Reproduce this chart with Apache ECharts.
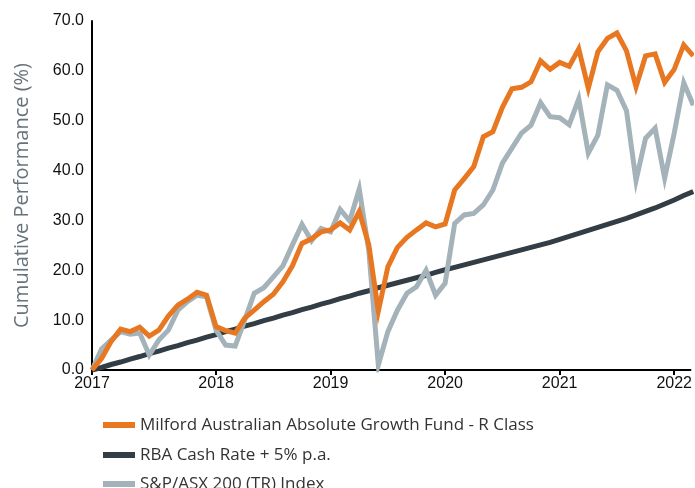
<!DOCTYPE html>
<html>
<head>
<meta charset="utf-8">
<title>Cumulative Performance</title>
<script src="https://cdn.jsdelivr.net/npm/echarts@6/dist/echarts.min.js"></script>
<style>
  html, body { margin: 0; padding: 0; background: #fff; }
  #perf_line { width: 695px; height: 488px; }
</style>
</head>
<body>
<div id="perf_line"></div>
<script>
// month index 0 = start of the series (0%), one point per month
var tickMonths = [0, 13, 25, 37, 49, 61];
var yearLabels = ['2017', '2018', '2019', '2020', '2021', '2022'];

var fundName = 'Milford Australian Absolute Growth Fund - R Class';
var cashName = 'RBA Cash Rate + 5% p.a.';
var asxName = 'S&P/ASX 200 (TR) Index';

// Milford fund, cumulative %
var fundVals = [0, 2.3, 5.7, 8.2, 7.7, 8.6, 6.8, 8.0, 10.8, 13.0, 14.2, 15.6, 15.0,
  8.7, 7.9, 7.4, 10.4, 12.0, 13.7, 15.2, 17.7, 20.9, 25.4, 26.3, 27.7,
  28.1, 29.5, 28.1, 31.8, 25.1, 11.8, 20.7, 24.6, 26.6, 28.1, 29.5, 28.7,
  29.3, 36.1, 38.4, 40.8, 46.8, 47.8, 52.7, 56.4, 56.7, 57.8, 62.0, 60.3,
  61.7, 60.9, 64.4, 56.5, 63.8, 66.5, 67.6, 64.0, 56.8, 63.0, 63.4, 57.7,
  60.3, 65.2, 63.0];
// RBA cash rate + 5%
var cashVals = [0, 0.5, 1.1, 1.6, 2.2, 2.7, 3.3, 3.8, 4.4, 4.9, 5.5, 6.0, 6.6,
  7.1, 7.7, 8.2, 8.8, 9.3, 9.9, 10.4, 11.0, 11.5, 12.1, 12.6, 13.2,
  13.7, 14.3, 14.8, 15.4, 15.9, 16.5, 17.0, 17.5, 18.0, 18.5, 19.0, 19.6,
  20.1, 20.6, 21.1, 21.6, 22.1, 22.6, 23.1, 23.6, 24.1, 24.6, 25.1, 25.6,
  26.2, 26.8, 27.4, 28.0, 28.6, 29.2, 29.8, 30.4, 31.1, 31.8, 32.5, 33.3,
  34.1, 35.0, 35.8];
// S&P/ASX 200 TR
var asxVals = [0, 4.2, 6.0, 7.7, 7.2, 7.4, 3.0, 6.0, 8.0, 12.0, 13.7, 15.0, 14.7,
  8.0, 5.0, 4.8, 10.0, 15.4, 16.5, 18.7, 20.9, 25.1, 29.2, 25.9, 28.4,
  27.7, 32.2, 29.9, 36.3, 24.0, 1.0, 7.7, 12.0, 15.4, 16.7, 20.0, 15.0,
  17.4, 29.4, 31.1, 31.4, 33.1, 36.1, 41.5, 44.5, 47.5, 49.1, 53.6, 50.8,
  50.6, 49.2, 54.4, 43.5, 47.1, 57.2, 56.1, 52.0, 38.0, 46.5, 48.5, 38.5,
  47.5, 57.6, 53.1];

var colors = { fund: '#e87722', cash: '#333d45', asx: '#a4b2ba' };

var toPoints = function (arr) {
  var res = [];
  for (var i = 0; i < arr.length; i++) {
    res.push([i, arr[i]]);
  }
  return res;
};

var lineSeries = function (name, arr, color, z) {
  return {
    name: name,
    type: 'line',
    data: toPoints(arr),
    showSymbol: false,
    symbol: 'none',
    z: z,
    color: color,
    lineStyle: { color: color, width: 5, join: 'miter', cap: 'butt' },
    animation: false
  };
};

// one legend per row, so the last row can run off the bottom like the original
var legendRow = function (name, top) {
  return {
    orient: 'vertical',
    left: 98,
    top: top,
    icon: 'rect',
    itemWidth: 32,
    itemHeight: 6,
    data: [name],
    selectedMode: false,
    textStyle: { fontFamily: 'Open Sans', fontSize: 17, color: '#333', lineHeight: 20 }
  };
};

var perf_line = echarts.init(document.getElementById('perf_line'));
var option = {
  backgroundColor: '#fff',
  grid: { left: 92, right: 0, top: 21, bottom: 118, containLabel: false },
  legend: [
    legendRow(fundName, 410),
    legendRow(cashName, 440),
    legendRow(asxName, 469)
  ],
  xAxis: {
    type: 'value',
    min: 0,
    max: 62.7,
    splitLine: { show: false },
    axisLine: { lineStyle: { color: '#000', width: 2 } },
    axisTick: { show: true, length: 5, lineStyle: { color: '#000', width: 2 }, customValues: tickMonths },
    axisLabel: {
      customValues: tickMonths,
      fontFamily: 'Liberation Sans',
      fontSize: 16,
      color: '#111',
      margin: 6,
      formatter: function (v) {
        var k = tickMonths.indexOf(v);
        return k >= 0 ? yearLabels[k] : '';
      }
    }
  },
  yAxis: {
    type: 'value',
    min: 0,
    max: 70,
    interval: 10,
    name: 'Cumulative Performance (%)',
    nameLocation: 'middle',
    nameGap: 60,
    nameTextStyle: { fontFamily: 'Open Sans', fontSize: 20, color: '#66737b' },
    splitLine: { show: false },
    axisLine: { show: true, lineStyle: { color: '#000', width: 2 } },
    axisTick: { show: false },
    axisLabel: {
      fontFamily: 'Liberation Sans',
      fontSize: 16,
      color: '#111',
      margin: 8,
      formatter: function (v) { return v.toFixed(1); }
    }
  },
  series: [
    lineSeries(cashName, cashVals, colors.cash, 1),
    lineSeries(asxName, asxVals, colors.asx, 2),
    lineSeries(fundName, fundVals, colors.fund, 3)
  ]
};
perf_line.setOption(option);
</script>
</body>
</html>
